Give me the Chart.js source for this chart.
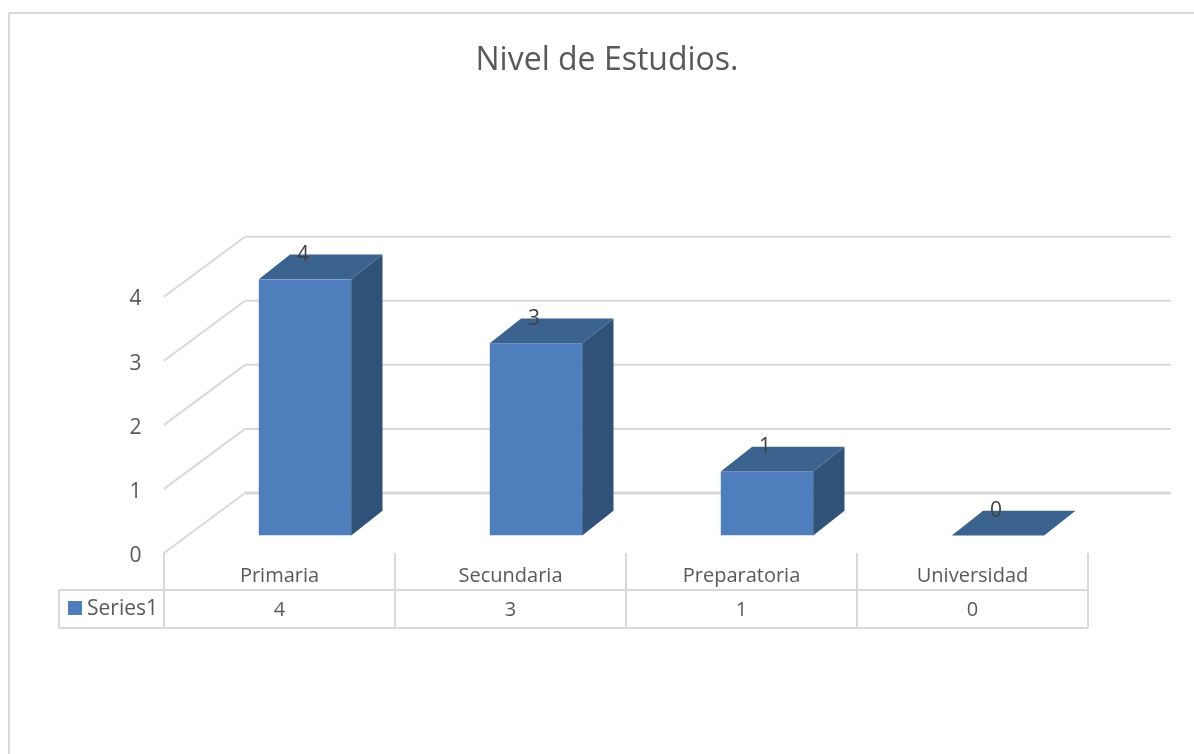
<!DOCTYPE html>
<html>
<head>
<meta charset="utf-8">
<title>Nivel de Estudios</title>
<script src="https://cdn.jsdelivr.net/npm/chart.js@4"></script>
<style>
  html, body { margin: 0; padding: 0; background: #fff; overflow: hidden; }
  canvas { display: block; }
</style>
</head>
<body>
<canvas id="chart" width="1194" height="754"></canvas>
<script>
const categories = ['Primaria', 'Secundaria', 'Preparatoria', 'Universidad']
const seriesName = 'Series1'
const seriesValues = [4, 3, 1, 0]
const yTicks = [0, 1, 2, 3, 4]

const fontFamily = '"Open Sans", sans-serif'
const textColor = '#595959'
const lineColor = '#d9d9d9'

// the bars stand in the middle of the 3d floor, the walls and table are offset from them
const wallShift = { x: -25.5, y: 17.5 }
const wallDepth = { x: 81, y: -60 }
const barDepth = { x: 31.3, y: -24.7 }

function line(ctx, x1, y1, x2, y2) {
  ctx.beginPath()
  ctx.moveTo(x1, y1)
  ctx.lineTo(x2, y2)
  ctx.stroke()
}

const frame3d = {
  id: 'frame3d',
  beforeDatasetsDraw(chart) {
    const { ctx, scales: { x, y } } = chart
    ctx.save()
    ctx.strokeStyle = lineColor
    // outer frame
    ctx.lineWidth = 2
    line(ctx, 9, 13, 1194, 13)
    line(ctx, 9, 13, 9, 754)
    // left wall and back wall
    const fx = x.left + wallShift.x
    yTicks.forEach(v => {
      const fy = y.getPixelForValue(v) + wallShift.y
      ctx.lineWidth = 2
      line(ctx, fx, fy, fx + wallDepth.x, fy + wallDepth.y)
      ctx.lineWidth = v === 0 ? 3 : 2
      line(ctx, fx + wallDepth.x, fy + wallDepth.y, 1171, fy + wallDepth.y)
    })
    ctx.restore()
  },
  afterDatasetsDraw(chart) {
    const { ctx } = chart
    const bars = chart.getDatasetMeta(0).data
    ctx.save()
    bars.forEach((bar, i) => {
      const left = bar.x - bar.width / 2
      const right = bar.x + bar.width / 2
      // side face
      if (seriesValues[i] > 0) {
        ctx.fillStyle = '#305279'
        ctx.beginPath()
        ctx.moveTo(right, bar.y)
        ctx.lineTo(right + barDepth.x, bar.y + barDepth.y)
        ctx.lineTo(right + barDepth.x, bar.base + barDepth.y)
        ctx.lineTo(right, bar.base)
        ctx.fill()
      }
      // top face
      ctx.fillStyle = '#3c6290'
      ctx.beginPath()
      ctx.moveTo(left, bar.y)
      ctx.lineTo(left + barDepth.x, bar.y + barDepth.y)
      ctx.lineTo(right + barDepth.x, bar.y + barDepth.y)
      ctx.lineTo(right, bar.y)
      ctx.fill()
      // value on top
      ctx.fillStyle = '#404040'
      ctx.font = '21px ' + fontFamily
      ctx.textAlign = 'center'
      ctx.textBaseline = 'middle'
      ctx.fillText(seriesValues[i], bar.x - 2, bar.y - 24.5)
    })
    ctx.restore()
  },
  afterDraw(chart) {
    const { ctx, scales: { x } } = chart
    const step = x.getPixelForValue(1) - x.getPixelForValue(0)
    const tableLeft = x.left + wallShift.x
    const tableRight = tableLeft + step * categories.length
    const top = 553, mid = 590, bottom = 628, outer = 59
    ctx.save()
    ctx.strokeStyle = lineColor
    ctx.lineWidth = 2
    line(ctx, outer, mid, tableRight, mid)
    line(ctx, outer, bottom, tableRight, bottom)
    line(ctx, outer, mid, outer, bottom)
    for (let i = 0; i <= categories.length; i++) {
      line(ctx, tableLeft + step * i, top, tableLeft + step * i, bottom)
    }
    ctx.fillStyle = textColor
    ctx.font = '20px ' + fontFamily
    ctx.textAlign = 'center'
    ctx.textBaseline = 'middle'
    seriesValues.forEach((v, i) => {
      ctx.fillText(v, tableLeft + step * (i + 0.5), 610)
    })
    // legend key in the table
    ctx.font = '21px ' + fontFamily
    ctx.textAlign = 'left'
    ctx.fillText(seriesName, 87, 609)
    ctx.fillStyle = '#4e7fbc'
    ctx.fillRect(68, 601, 14, 14)
    ctx.restore()
  }
}

new Chart('chart', {
  type: 'bar',
  data: {
    labels: categories,
    datasets: [{
      label: seriesName,
      data: seriesValues,
      backgroundColor: '#4e7fbc',
      borderWidth: 0,
      categoryPercentage: 1,
      barPercentage: 0.4
    }]
  },
  options: {
    responsive: false,
    animation: false,
    // left and right padding also centre the title over the plot, as in the original
    layout: { padding: { left: 100.5, right: 80.5, top: 0, bottom: 0 } },
    plugins: {
      legend: { display: false },
      tooltip: { enabled: false },
      title: {
        display: true,
        text: 'Nivel de Estudios.',
        color: textColor,
        font: { family: fontFamily, size: 32, weight: 'normal', lineHeight: 1.2 },
        padding: { top: 42, bottom: 198.8 }
      }
    },
    scales: {
      x: {
        grid: { display: false, drawTicks: false },
        border: { display: false },
        afterFit: scale => { scale.height = 218.5 },
        ticks: {
          color: textColor,
          font: { family: fontFamily, size: 20 },
          labelOffset: -25.5,
          padding: 29,
          maxRotation: 0
        }
      },
      y: {
        min: 0,
        max: 4,
        grid: { display: false, drawTicks: false },
        border: { display: false },
        afterFit: scale => { scale.width = 89 },
        afterBuildTicks: scale => { scale.ticks = yTicks.map(v => ({ value: v })) },
        ticks: {
          color: textColor,
          font: { family: fontFamily, size: 21 },
          labelOffset: 20.3,
          padding: 48
        }
      }
    }
  },
  plugins: [frame3d]
})
</script>
</body>
</html>
